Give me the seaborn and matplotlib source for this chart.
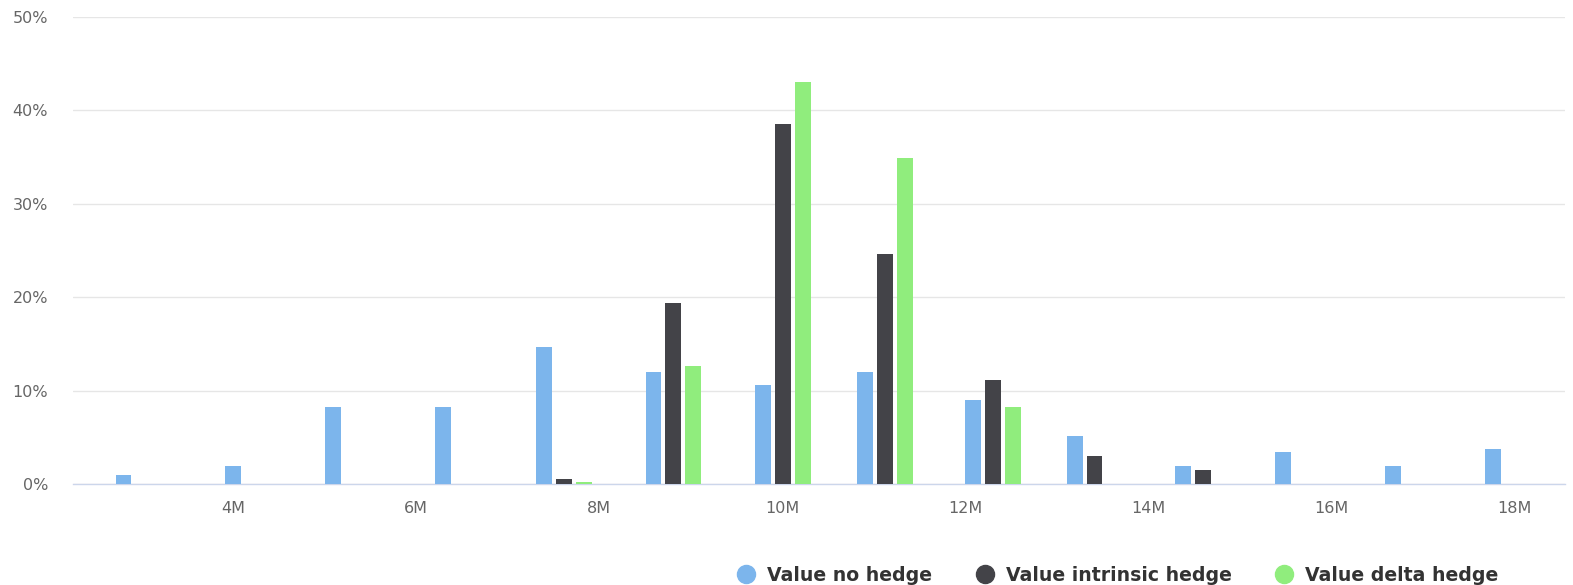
import pandas as pd
import matplotlib
matplotlib.use("Agg")
import matplotlib.pyplot as plt
from matplotlib.lines import Line2D
import seaborn as sns

# bin centres (millions) and share of scenarios (%) for each hedge strategy
bins_m = [3.02, 4.22, 5.31, 6.51, 7.615, 8.81, 10.006, 11.12, 12.30, 13.41, 14.60, 15.69, 16.89, 17.98]
no_hedge = [0.95, 1.9, 8.3, 8.3, 14.7, 11.95, 10.6, 11.95, 9.05, 5.1, 1.9, 3.4, 1.9, 3.75]
intrinsic_hedge = [0, 0, 0, 0, 0.55, 19.4, 38.5, 24.6, 11.15, 3.05, 1.55, 0, 0, 0]
delta_hedge = [0, 0, 0, 0, 0.25, 12.65, 43.0, 34.95, 8.3, 0, 0, 0, 0, 0]

series_names = ["Value no hedge", "Value intrinsic hedge", "Value delta hedge"]
colors = ["#7cb5ec", "#434348", "#90ed7d"]
y_ticks = [0, 10, 20, 30, 40, 50]
x_ticks = [4, 6, 8, 10, 12, 14, 16, 18]

# long format table for seaborn
rows = []
for name, vals in zip(series_names, [no_hedge, intrinsic_hedge, delta_hedge]):
    for b, v in zip(bins_m, vals):
        rows.append({"bin": b, "series": name, "pct": v})
df = pd.DataFrame(rows)

sns.set_style("white")
plt.rcParams["font.family"] = ["DejaVu Sans"]

fig = plt.figure(figsize=(15.73, 5.85), dpi=100)
ax = fig.add_axes([0.0464, 0.1726, 0.9485, 0.7983])

sns.barplot(data=df, x="bin", y="pct", hue="series", hue_order=series_names,
            palette=colors, saturation=1, native_scale=True, width=0.6, gap=0.2,
            errorbar=None, linewidth=0, legend=False, ax=ax)

ax.set_xlim(2.25, 18.55)
ax.set_ylim(0, 50)
ax.set_yticks(y_ticks)
ax.set_yticklabels([f"{t}%" for t in y_ticks])
ax.set_xticks(x_ticks)
ax.set_xticklabels([f"{t}M" for t in x_ticks])
ax.set_xlabel("")
ax.set_ylabel("")

ax.grid(axis="y", color="#e6e6e6", linewidth=1.0)
ax.grid(axis="x", visible=False)
ax.set_axisbelow(True)
for s in ["top", "right", "left"]:
    ax.spines[s].set_visible(False)
ax.spines["bottom"].set_color("#ccd6eb")
ax.spines["bottom"].set_linewidth(1.0)
ax.spines["bottom"].set_zorder(0.5)

ax.tick_params(axis="x", colors="#ccd6eb", length=7, width=1, pad=5,
               labelcolor="#666666", labelsize=11.5)
ax.tick_params(axis="y", length=0, pad=18, labelcolor="#666666", labelsize=11.5)

# circle legend like the original
handles = [Line2D([0], [0], marker="o", linestyle="", markersize=13,
                  markerfacecolor=c, markeredgecolor=c) for c in colors]
leg = fig.legend(handles, series_names, loc="center", ncol=3,
                 bbox_to_anchor=(0.7105, 0.017), frameon=False,
                 handlelength=1.0, handletextpad=0.6, columnspacing=2.3,
                 prop={"weight": "bold", "size": 13.6})
for t in leg.get_texts():
    t.set_color("#333333")

fig.savefig("out.png", dpi=100)
